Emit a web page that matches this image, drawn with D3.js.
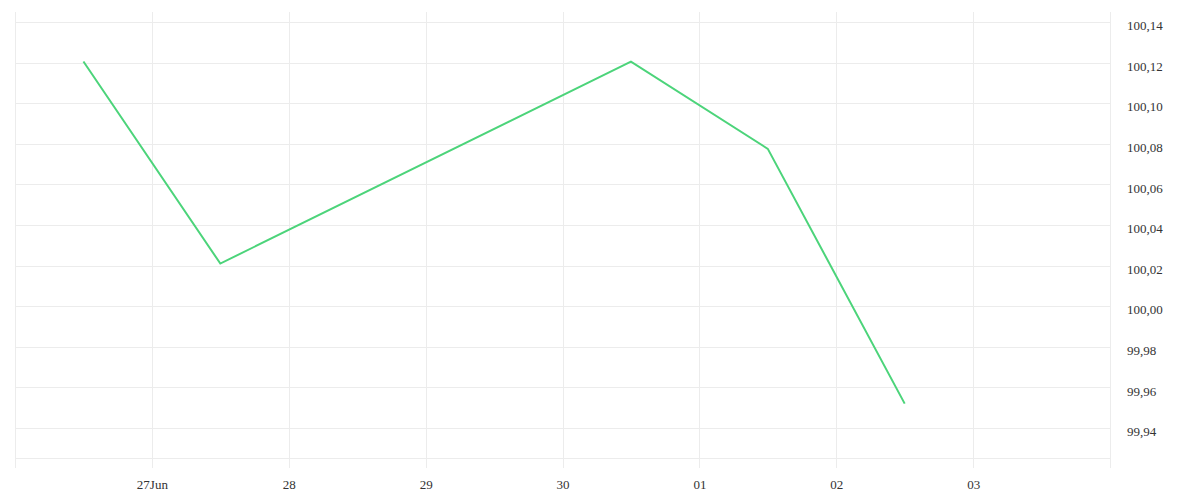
<!DOCTYPE html>
<html lang="en">
  <head>
    <meta charset="UTF-8" />
    <title>Line chart</title>
    <script src="https://d3js.org/d3.v7.min.js"></script>
    <style>
      body {
        margin: 0;
        background: #fff;
      }
      .grid line {
        stroke: #ececec;
        stroke-width: 1;
        shape-rendering: crispEdges;
      }
      .axis text {
        font-family: 'Liberation Serif', serif;
        font-size: 13px;
        fill: #333;
      }
    </style>
  </head>
  <body>
    <div id="chart-container"></div>

    <script>
      // data
      const dates = ['2025-06-26', '2025-06-27', '2025-06-30', '2025-07-01', '2025-07-02'];
      const values = [100.1205, 100.021, 100.1205, 100.0775, 99.952];
      const yTicks = [99.94, 99.96, 99.98, 100.0, 100.02, 100.04, 100.06, 100.08, 100.1, 100.12, 100.14];
      const xTicks = ['2025-06-27', '2025-06-28', '2025-06-29', '2025-06-30', '2025-07-01', '2025-07-02', '2025-07-03'];
      const xDomain = ['2025-06-26', '2025-07-04'];
      const yDomain = [99.9203, 100.1449];

      const svgWidth = 1200;
      const svgHeight = 500;
      const margin = { top: 12, right: 90, bottom: 32, left: 15 };
      const width = svgWidth - margin.left - margin.right;
      const height = svgHeight - margin.top - margin.bottom;

      const parse = d3.utcParse('%Y-%m-%d');
      // points sit at noon of each day
      const data = dates.map((d, i) => ({
        date: d3.utcHour.offset(parse(d), 12),
        value: values[i],
      }));

      const svg = d3
        .select('#chart-container')
        .append('svg')
        .attr('width', svgWidth)
        .attr('height', svgHeight)
        .append('g')
        .attr('transform', `translate(${margin.left},${margin.top})`);

      const x = d3.scaleUtc().domain(xDomain.map(parse)).range([0, width]);
      const y = d3.scaleLinear().domain(yDomain).range([height, 0]);

      // grid
      const grid = svg.append('g').attr('class', 'grid');
      grid
        .selectAll('.vline')
        .data(xTicks.map(parse).concat(xDomain.map(parse)))
        .enter()
        .append('line')
        .attr('x1', (d) => Math.round(x(d)) + 0.5)
        .attr('x2', (d) => Math.round(x(d)) + 0.5)
        .attr('y1', 0)
        .attr('y2', height);
      grid
        .selectAll('.hline')
        .data(yTicks)
        .enter()
        .append('line')
        .attr('x1', 0)
        .attr('x2', width)
        .attr('y1', (d) => Math.round(y(d)) + 0.5)
        .attr('y2', (d) => Math.round(y(d)) + 0.5);
      grid
        .append('line')
        .attr('x1', 0)
        .attr('x2', width)
        .attr('y1', height - 10 + 0.5)
        .attr('y2', height - 10 + 0.5);

      // axes
      const fmtY = (d) => d3.format('.2f')(d).replace('.', ',');
      const fmtX = (d, i) => (i === 0 ? d3.utcFormat('%d%b')(d) : d3.utcFormat('%d')(d));

      svg
        .append('g')
        .attr('class', 'axis')
        .attr('transform', `translate(${width},0)`)
        .call(d3.axisRight(y).tickValues(yTicks).tickFormat(fmtY).tickSize(0).tickPadding(17))
        .call((g) => g.select('.domain').remove())
        .selectAll('text')
        .attr('dy', '0.6em');

      svg
        .append('g')
        .attr('class', 'axis')
        .attr('transform', `translate(0,${height})`)
        .call(d3.axisBottom(x).tickValues(xTicks.map(parse)).tickFormat(fmtX).tickSize(0).tickPadding(12))
        .call((g) => g.select('.domain').remove());

      // line
      svg
        .append('path')
        .datum(data)
        .attr('fill', 'none')
        .attr('stroke', '#4cd47a')
        .attr('stroke-width', 2)
        .attr('stroke-linejoin', 'miter')
        .attr(
          'd',
          d3
            .line()
            .x((d) => x(d.date))
            .y((d) => y(d.value)),
        );
    </script>
  </body>
</html>
